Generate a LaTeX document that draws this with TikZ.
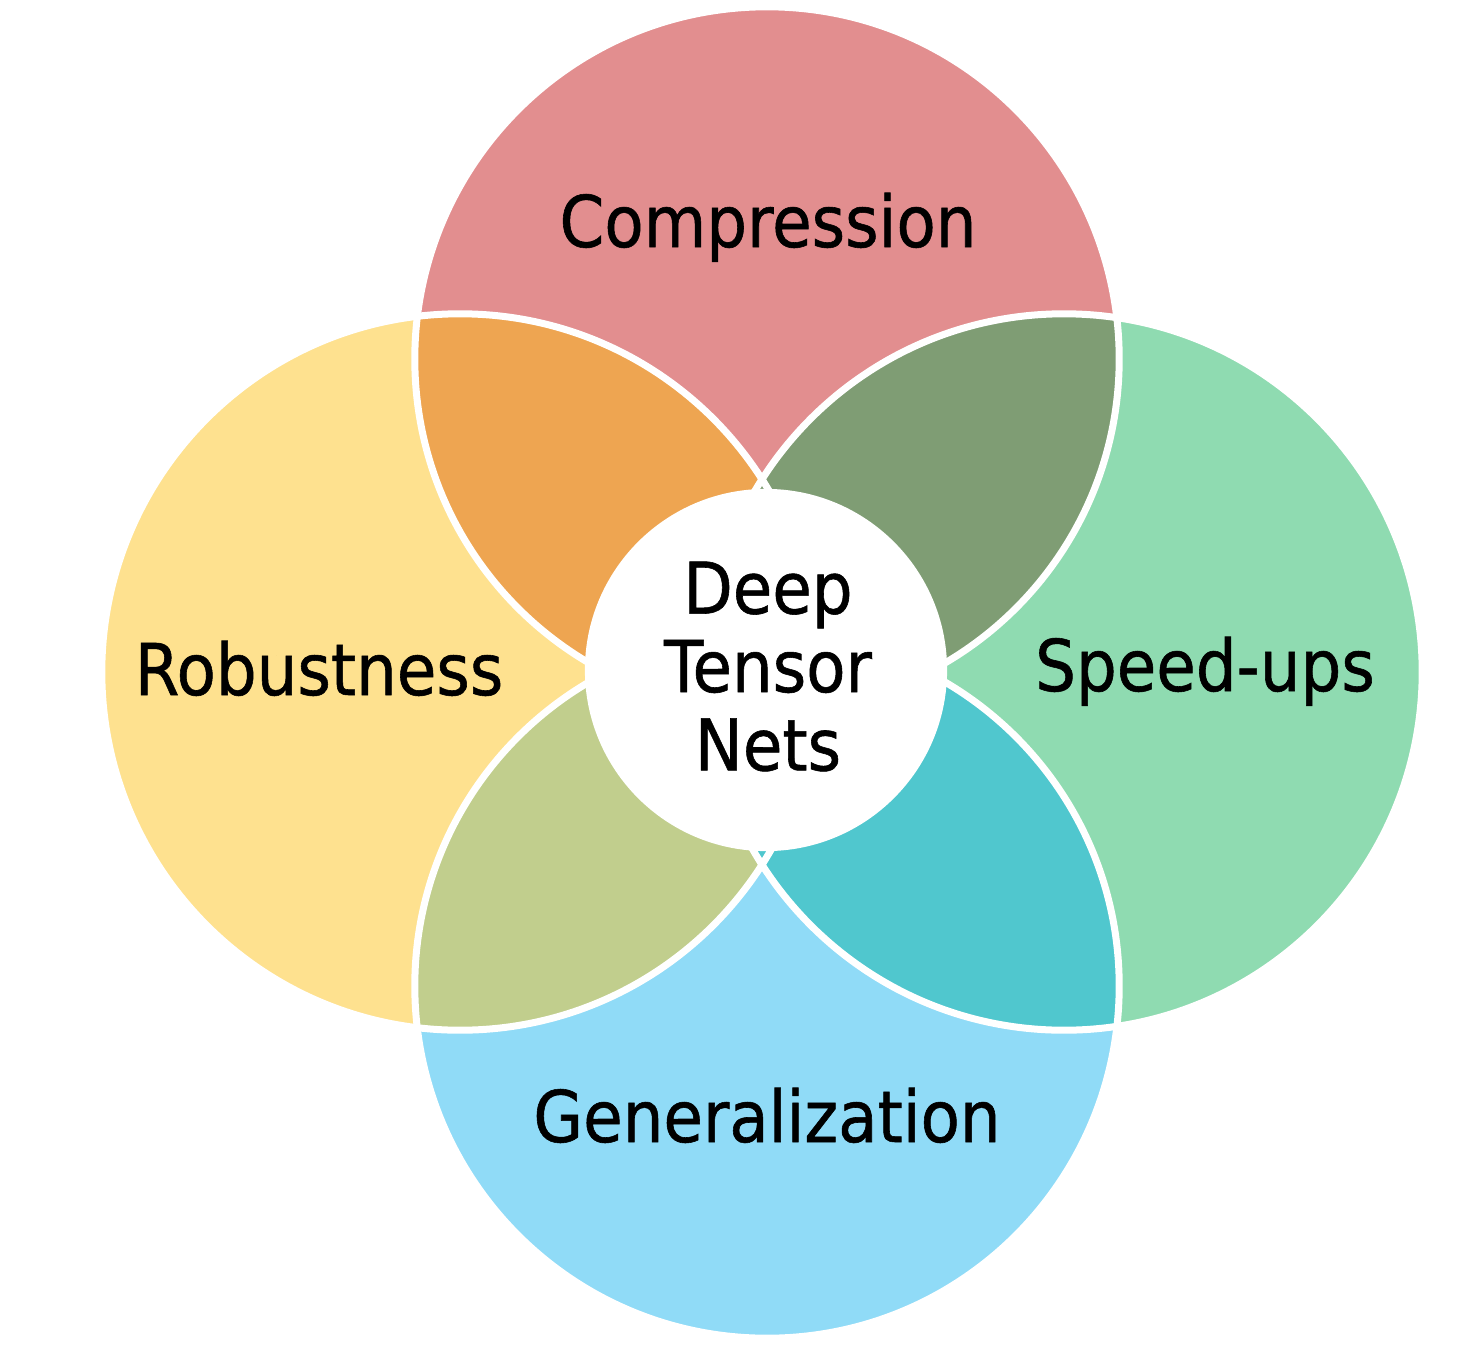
\documentclass[tikz,border=0pt]{standalone}
\usepackage{fontspec}
\setmainfont{DejaVu Sans}[FakeStretch=0.9,FakeBold=0.8]
\definecolor{cpink}{HTML}{E28E8F}
\definecolor{cyellow}{HTML}{FEE18F}
\definecolor{cgreen}{HTML}{8FDBB1}
\definecolor{cblue}{HTML}{90DBF7}
\definecolor{corange}{HTML}{EEA551}
\definecolor{cdkgreen}{HTML}{7F9D74}
\definecolor{colive}{HTML}{C1CE8D}
\definecolor{cteal}{HTML}{50C7CE}
\begin{document}
\begin{tikzpicture}[x=0.01cm,y=-0.01cm,
  ring/.style={draw=white,line width=0.07cm},
  lbl/.style={font=\fontsize{20.3}{22.3}\selectfont,inner sep=0pt,text=black}]
\useasboundingbox (0,0) rectangle (1472,1345);
\coordinate (T) at (767,359);
\coordinate (B) at (767,986);
\coordinate (L) at (460,672);
\coordinate (R) at (1064,672);
\coordinate (C) at (766,670);
\def\rTB{3.52cm}
\def\rLR{3.58cm}
% main circles
\fill[cpink]   (T) circle[radius=\rTB];
\fill[cblue]   (B) circle[radius=\rTB];
\fill[cyellow] (L) circle[radius=\rLR];
\fill[cgreen]  (R) circle[radius=\rLR];
% lenses
\begin{scope}
  \clip (T) circle[radius=\rTB];
  \fill[corange]  (L) circle[radius=\rLR];
  \fill[cdkgreen] (R) circle[radius=\rLR];
\end{scope}
\begin{scope}
  \clip (B) circle[radius=\rTB];
  \fill[colive] (L) circle[radius=\rLR];
  \fill[cteal]  (R) circle[radius=\rLR];
\end{scope}
% white outlines
\draw[ring] (T) circle[radius=\rTB];
\draw[ring] (B) circle[radius=\rTB];
\draw[ring] (L) circle[radius=\rLR];
\draw[ring] (R) circle[radius=\rLR];
% centre
\fill[white] (C) circle[radius=1.81cm];
% labels
\node[lbl,anchor=base] (comp) at (768,247) {Compression};
\node[lbl,anchor=base] (rob) at (319,695) {Robustness};
\node[lbl,anchor=base] (spd) at (1205,691) {Speed-ups};
\node[lbl,anchor=base] (gen) at (767,1142) {Generalization};
\node[lbl,align=center] (dtn) at (768,666.5) {Deep\\Tensor\\Nets};
\end{tikzpicture}
\end{document}
